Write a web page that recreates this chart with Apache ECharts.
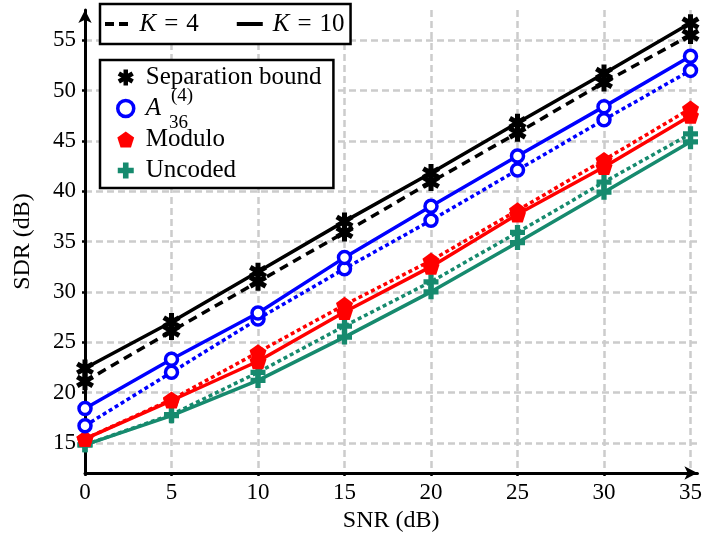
<!DOCTYPE html>
<html>
<head>
<meta charset="utf-8">
<script src="https://cdn.jsdelivr.net/npm/echarts@6/dist/echarts.min.js"></script>
<style>
  html, body { margin: 0; padding: 0; background: #fff; }
  #chart { width: 705px; height: 540px; }
</style>
</head>
<body>
<div id="chart"></div>
<script>
// SNR values (dB) on the x axis
var snr = [0, 5, 10, 15, 20, 25, 30, 35];

// SDR (dB)
var sepK10 = [22.4, 27.0, 32.0, 37.0, 41.8, 46.8, 51.7, 56.7];
var sepK4  = [21.1, 26.1, 31.0, 35.9, 40.9, 45.8, 50.8, 55.5];
var aK10   = [18.4, 23.3, 27.9, 33.4, 38.5, 43.5, 48.4, 53.4];
var aK4    = [16.7, 22.0, 27.3, 32.3, 37.1, 42.1, 47.1, 52.0];
var modK10 = [15.4, 19.2, 23.1, 28.0, 32.5, 37.7, 42.4, 47.5];
var modK4  = [15.4, 19.3, 24.0, 28.7, 33.1, 38.1, 43.1, 48.2];
var uncK10 = [14.8, 17.7, 21.2, 25.5, 30.0, 34.9, 39.9, 44.9];
var uncK4  = [14.8, 17.8, 22.0, 26.6, 31.0, 35.9, 40.9, 45.7];

var FONT = 'Liberation Serif';
var BLUE = '#0000ff';
var RED = '#ff0000';
var GREEN = '#168a6e';

// marker shapes
function asteriskPath(arms, len, half) {
    var d = '';
    for (var k = 0; k < arms; k++) {
        var a = Math.PI * k / arms;
        var c = Math.cos(a), s = Math.sin(a);
        var pts = [[-half, -len], [half, -len], [half, len], [-half, len]].map(function (p) {
            return (p[0] * c - p[1] * s).toFixed(2) + ',' + (p[0] * s + p[1] * c).toFixed(2);
        });
        d += 'M' + pts.join('L') + 'Z';
    }
    return 'path://' + d;
}
function pentagonPath(r) {
    var pts = [];
    for (var k = 0; k < 5; k++) {
        var a = -Math.PI / 2 + k * 2 * Math.PI / 5;
        pts.push((r * Math.cos(a)).toFixed(2) + ',' + (r * Math.sin(a)).toFixed(2));
    }
    return 'path://M' + pts.join('L') + 'Z';
}
var ASTER = asteriskPath(3, 10, 2.8);
var PENTA = pentagonPath(10);
var PLUS = 'path://M-3.5,-10L3.5,-10L3.5,-3.5L10,-3.5L10,3.5L3.5,3.5L3.5,10L-3.5,10L-3.5,3.5L-10,3.5L-10,-3.5L-3.5,-3.5Z';
// legend samples of the two line styles
var DASH_ICON = 'path://M0,0H9V4H0ZM14,0H23V4H14Z';
var SOLID_ICON = 'path://M0,0H26V4H0Z';

function pairs(ys) {
    return snr.map(function (x, i) { return [x, ys[i]]; });
}

function lineSeries(name, ys, color, dash, symbol, size, itemStyle, z) {
    return {
        name: name,
        type: 'line',
        data: pairs(ys),
        symbol: symbol,
        symbolSize: size,
        symbolKeepAspect: true,
        showAllSymbol: true,
        lineStyle: { color: color, width: 3.5, type: dash },
        itemStyle: itemStyle || { color: color },
        z: z,
        animation: false
    };
}

var ringStyle = { color: '#ffffff', borderColor: BLUE, borderWidth: 3.5 };
var DOT = [4, 3];

var series = [
    lineSeries('Uncoded', uncK4, GREEN, DOT, PLUS, 15, null, 2),
    lineSeries('Uncoded', uncK10, GREEN, 'solid', PLUS, 15, null, 2),
    lineSeries('Modulo', modK4, RED, DOT, PENTA, 17, null, 3),
    lineSeries('Modulo', modK10, RED, 'solid', PENTA, 17, null, 3),
    lineSeries('A', aK4, BLUE, DOT, 'circle', 12, ringStyle, 4),
    lineSeries('A', aK10, BLUE, 'solid', 'circle', 12, ringStyle, 4),
    lineSeries('Separation bound', sepK4, '#000', [9, 6], ASTER, 18, null, 5),
    lineSeries('Separation bound', sepK10, '#000', 'solid', ASTER, 18, null, 5),
    // legend-only entries for the line styles
    { name: 'K = 4', type: 'line', data: [], symbol: 'none', itemStyle: { color: '#000' } },
    { name: 'K = 10', type: 'line', data: [], symbol: 'none', itemStyle: { color: '#000' } }
];

var chart = echarts.init(document.getElementById('chart'));
chart.setOption({
    backgroundColor: '#fff',
    animation: false,
    textStyle: { fontFamily: FONT },
    grid: { left: 85, right: 7.5, top: 10, bottom: 67 },
    xAxis: {
        type: 'value',
        min: 0,
        max: 35.4,
        interval: 5,
        name: 'SNR (dB)',
        nameLocation: 'middle',
        nameGap: 35,
        nameTextStyle: { color: '#000', fontSize: 24, fontFamily: FONT },
        axisLine: { lineStyle: { color: '#000', width: 3 }, symbol: ['none', 'arrow'], symbolSize: [10, 13] },
        axisTick: { length: 3, lineStyle: { color: '#000', width: 2.5 } },
        axisLabel: {
            color: '#000', fontSize: 23, fontFamily: FONT, margin: 8,
            showMaxLabel: false,
            formatter: function (v) { return v % 5 === 0 ? String(v) : ''; }
        },
        splitLine: { show: true, showMaxLine: false, lineStyle: { color: '#cccccc', width: 2.5, type: [7, 4] } }
    },
    yAxis: {
        type: 'value',
        min: 12,
        max: 58,
        splitNumber: 9,
        name: 'SDR (dB)',
        nameLocation: 'middle',
        nameGap: 50,
        nameTextStyle: { color: '#000', fontSize: 24, fontFamily: FONT },
        axisLine: { lineStyle: { color: '#000', width: 3 }, symbol: ['none', 'arrow'], symbolSize: [10, 13] },
        axisTick: { length: 3, lineStyle: { color: '#000', width: 2.5 } },
        axisLabel: {
            color: '#000', fontSize: 23, fontFamily: FONT, margin: 9,
            showMinLabel: false, showMaxLabel: false,
            formatter: function (v) { return v % 5 === 0 ? String(v) : ''; }
        },
        splitLine: { show: true, showMinLine: false, showMaxLine: false, lineStyle: { color: '#cccccc', width: 2.5, type: [7, 4] } }
    },
    legend: [
        {
            data: [
                { name: 'K = 4', icon: DASH_ICON, itemStyle: { color: '#000', borderWidth: 0 } },
                { name: 'K = 10', icon: SOLID_ICON, itemStyle: { color: '#000', borderWidth: 0 } }
            ],
            orient: 'horizontal',
            left: 100,
            top: 4,
            padding: [5, 6, 5, 5],
            itemWidth: 26,
            itemHeight: 4,
            itemGap: 38,
            borderColor: '#000',
            borderWidth: 2.5,
            borderRadius: 0,
            backgroundColor: '#fff',
            selectedMode: false,
            formatter: function (name) { return '{i|K}{e|=}' + name.split('= ')[1]; },
            textStyle: {
                color: '#000', fontSize: 25, fontFamily: FONT, lineHeight: 30, padding: [0, 0, 0, 5],
                rich: {
                    i: { fontStyle: 'italic', fontSize: 25, fontFamily: FONT, color: '#000' },
                    e: { fontSize: 25, fontFamily: FONT, color: '#000', padding: [0, 8, 0, 8] }
                }
            }
        },
        {
            data: [
                { name: 'Separation bound', icon: ASTER, itemStyle: { color: '#000', borderWidth: 0 } },
                { name: 'A', icon: 'circle', itemStyle: { color: '#fff', borderColor: BLUE, borderWidth: 3.5 } },
                { name: 'Modulo', icon: PENTA, itemStyle: { color: RED, borderWidth: 0 } },
                { name: 'Uncoded', icon: PLUS, itemStyle: { color: GREEN, borderWidth: 0 } }
            ],
            orient: 'vertical',
            left: 100,
            top: 60,
            padding: [4, 12, 4, 16],
            itemWidth: 26,
            itemHeight: 16,
            itemGap: 4,
            borderColor: '#000',
            borderWidth: 2.5,
            borderRadius: 0,
            backgroundColor: '#fff',
            selectedMode: false,
            formatter: function (name) { return name === 'A' ? '{i|A}' : name; },
            textStyle: {
                color: '#000', fontSize: 25, fontFamily: FONT, lineHeight: 27, padding: [0, 0, 0, 2],
                rich: { i: { fontStyle: 'italic', fontSize: 25, fontFamily: FONT, color: '#000', lineHeight: 27 } }
            }
        }
    ],
    graphic: [
        { type: 'text', left: 171, top: 87, z: 100, style: { text: '(4)', fontSize: 19, fontFamily: FONT, fill: '#000' } },
        { type: 'text', left: 169, top: 114, z: 100, style: { text: '36', fontSize: 19, fontFamily: FONT, fill: '#000' } }
    ],
    series: series
});
</script>
</body>
</html>
